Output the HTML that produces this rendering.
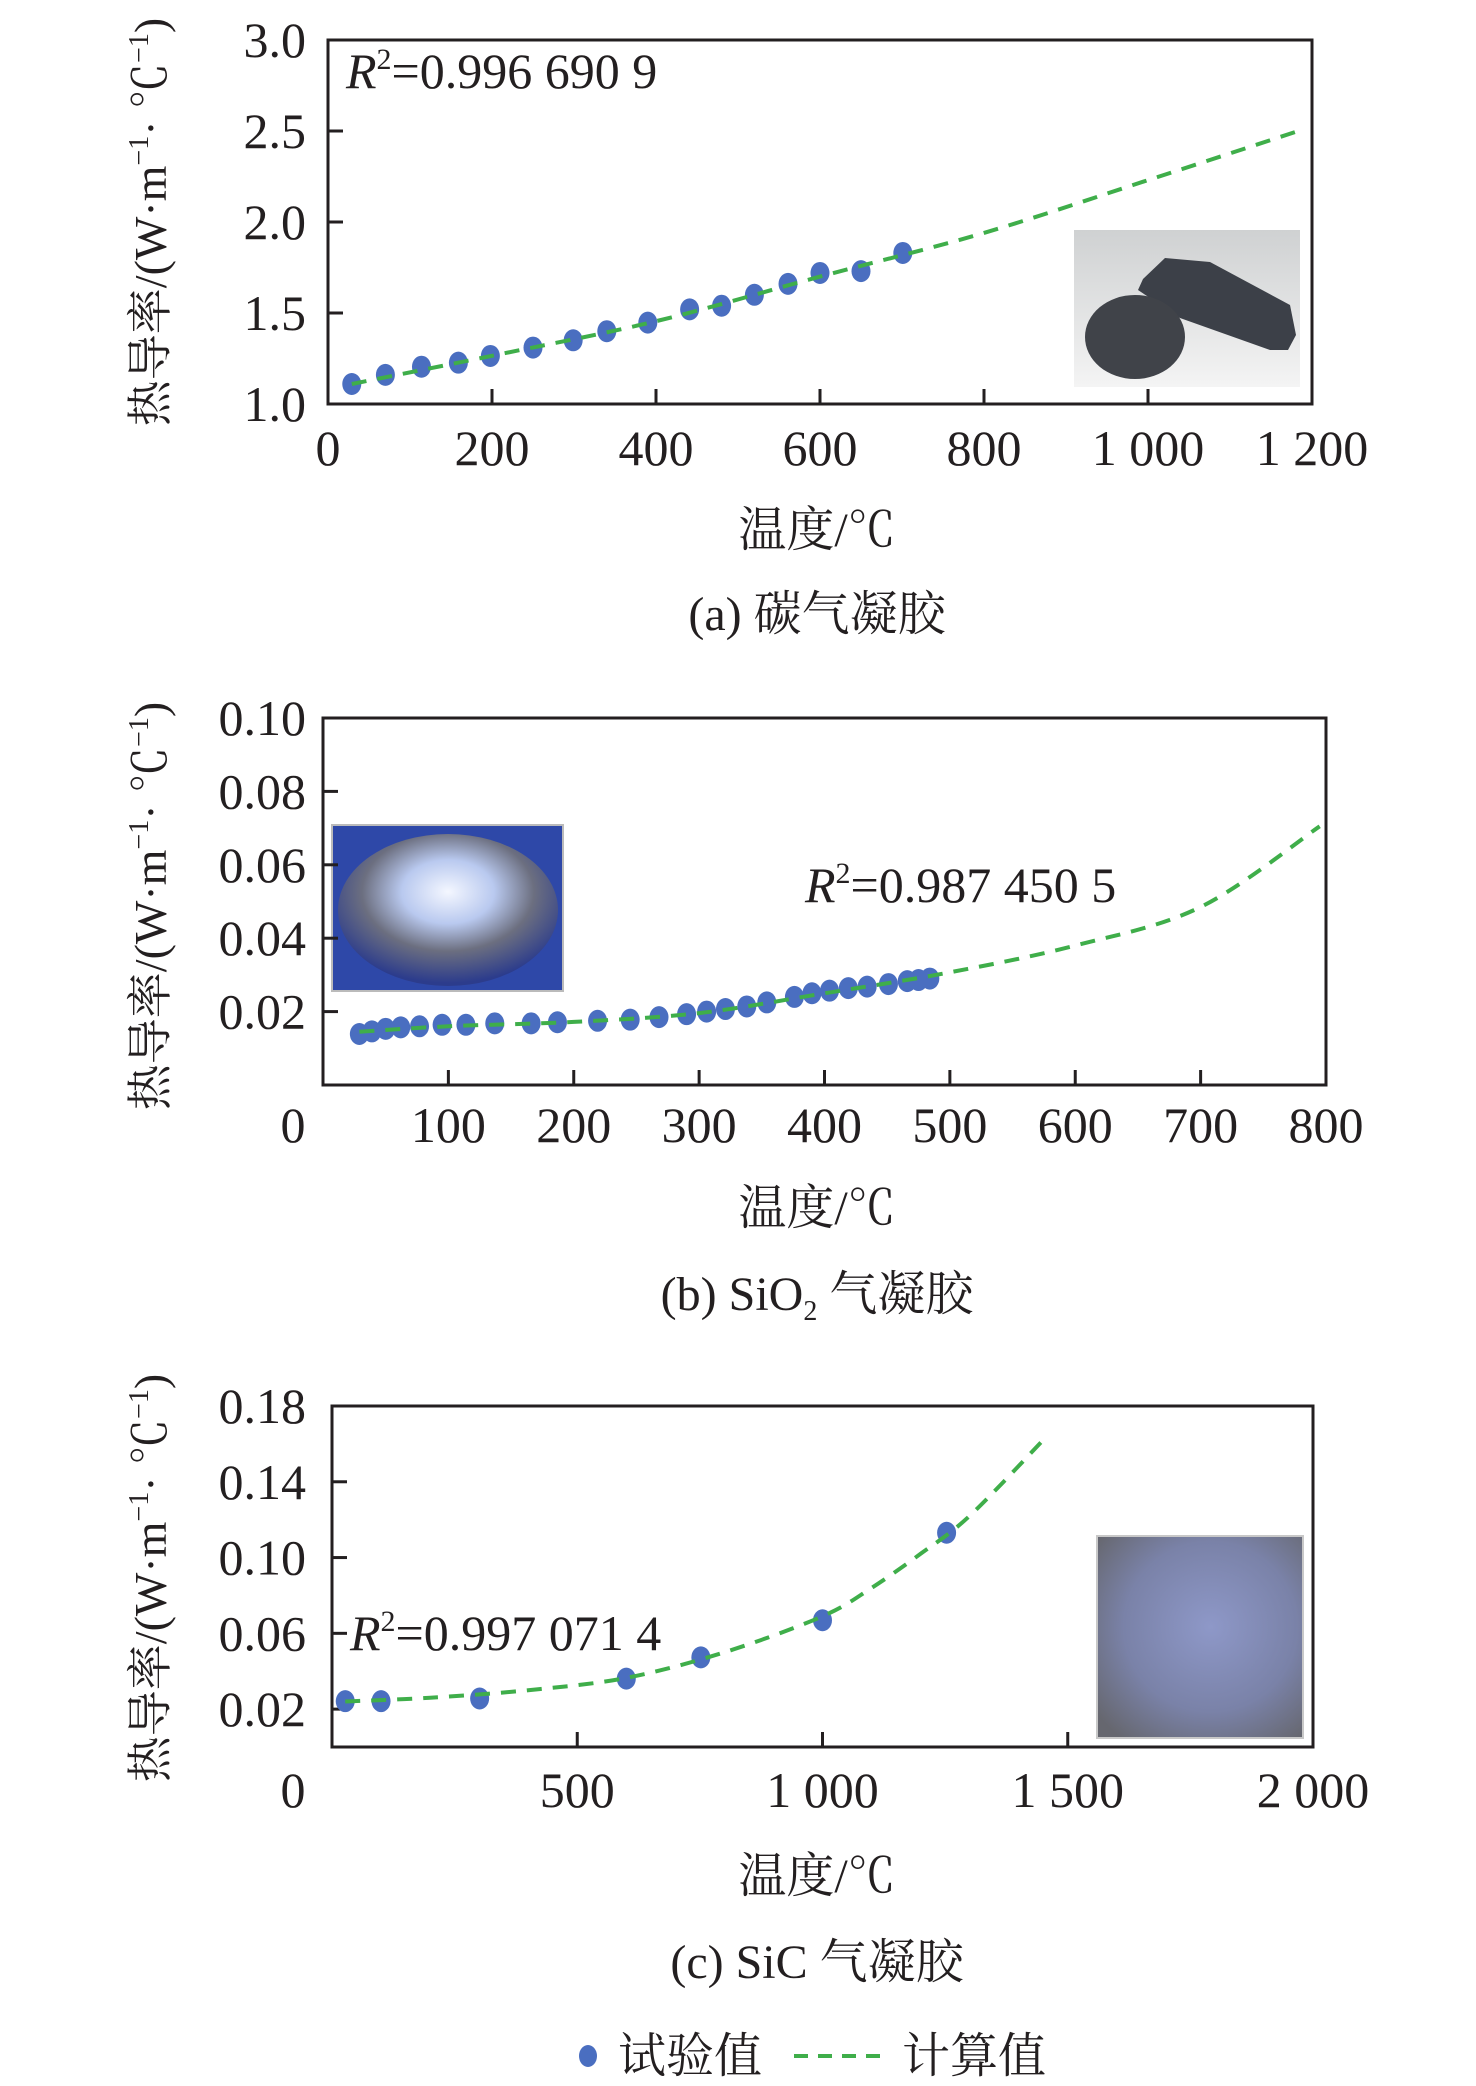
<!DOCTYPE html>
<html><head><meta charset="utf-8"><style>
html,body{margin:0;padding:0;background:#fff;}
svg{display:block;}
text{font-family:"Liberation Serif","Noto Serif CJK SC","Noto Sans CJK SC",serif;fill:#231f20;}
</style></head><body>
<svg id="fig" width="1476" height="2086" viewBox="0 0 1476 2086" xmlns="http://www.w3.org/2000/svg">
<defs>
<linearGradient id="ga" x1="0" y1="0" x2="0" y2="1"><stop offset="0" stop-color="#cfd1d2"/><stop offset="1" stop-color="#f4f4f4"/></linearGradient>
<radialGradient id="gb" cx="0.5" cy="0.38" r="0.6"><stop offset="0" stop-color="#f4f7ff"/><stop offset="0.35" stop-color="#b9c9ef"/><stop offset="0.65" stop-color="#6c6f80"/><stop offset="1" stop-color="#2c3c8c"/></radialGradient>
<radialGradient id="gc" cx="0.55" cy="0.45" r="0.7"><stop offset="0" stop-color="#8e98c8"/><stop offset="0.6" stop-color="#7a82a8"/><stop offset="1" stop-color="#66676f"/></radialGradient>
</defs>
<g id="chart-a"></g>
<g id="chart-b"></g>
<g id="chart-c"></g>
<g>
<ellipse cx="588" cy="2056" rx="9" ry="11" fill="#4a6ec0"/>
<text x="618" y="2072" font-size="48">试验值</text>
<line x1="794" y1="2056" x2="886" y2="2056" stroke="#3fae4a" stroke-width="4" stroke-dasharray="14,10"/>
<text x="902" y="2072" font-size="48">计算值</text>
</g>
</svg>
<script>
// Chart (a) carbon aerogel
const aTemps = [29,70,114,159,198,250,299,340,390,441,480,520,561,600,650,701];
const aValues = [1.11,1.16,1.205,1.227,1.264,1.31,1.35,1.40,1.447,1.52,1.54,1.60,1.66,1.72,1.73,1.83];
const aFitTemps = [29,200,400,600,800,1000,1190];
const aFitValues = [1.11,1.265,1.455,1.70,1.94,2.23,2.51];
const aYTicks = [1.0,1.5,2.0,2.5,3.0];
const aYTickLabels = ["1.0","1.5","2.0","2.5","3.0"];
const aXTicks = [0,200,400,600,800,1000,1200];
const aXTickLabels = ["0","200","400","600","800","1 000","1 200"];

// Chart (b) SiO2 aerogel
const bTemps = [29,39,50,62,77,95,114,137,166,187,219,245,268,290,306,321,338,354,376,390,404,419,434,451,466,475,484];
const bValues = [0.0139,0.0146,0.0153,0.0157,0.016,0.0164,0.0164,0.0168,0.0168,0.0171,0.0175,0.0178,0.0185,0.0193,0.020,0.0207,0.0214,0.0225,0.024,0.025,0.0257,0.0264,0.0268,0.0275,0.0283,0.0286,0.029];
const bFitTemps = [29,100,200,300,400,500,600,700,795];
const bFitValues = [0.0145,0.0160,0.0172,0.0196,0.0250,0.0307,0.0380,0.0485,0.0705];
const bYTicks = [0.02,0.04,0.06,0.08,0.10];
const bYTickLabels = ["0.02","0.04","0.06","0.08","0.10"];
const bXTicks = [100,200,300,400,500,600,700,800];
const bXTickLabels = ["100","200","300","400","500","600","700","800"];

// Chart (c) SiC aerogel
const cTemps = [27,100,301,600,752,1000,1253];
const cValues = [0.0242,0.0242,0.0256,0.0361,0.0473,0.0669,0.1131];
const cFitTemps = [27,200,400,600,800,1000,1100,1200,1300,1450];
const cFitValues = [0.024,0.026,0.030,0.0365,0.050,0.069,0.084,0.102,0.122,0.162];
const cYTicks = [0.02,0.06,0.10,0.14,0.18];
const cYTickLabels = ["0.02","0.06","0.10","0.14","0.18"];
const cXTicks = [500,1000,1500,2000];
const cXTickLabels = ["500","1 000","1 500","2 000"];

const NS = "http://www.w3.org/2000/svg";
function mk(parent, tag, attrs, txt){
  const e = document.createElementNS(NS, tag);
  for (const k in attrs) e.setAttribute(k, attrs[k]);
  if (txt !== undefined) e.textContent = txt;
  parent.appendChild(e);
  return e;
}
function smoothPath(pts){
  let d = 'M'+pts[0][0].toFixed(1)+','+pts[0][1].toFixed(1);
  for (let i=0;i<pts.length-1;i++){
    const p0=pts[Math.max(0,i-1)],p1=pts[i],p2=pts[i+1],p3=pts[Math.min(pts.length-1,i+2)];
    const c1=[p1[0]+(p2[0]-p0[0])/6,p1[1]+(p2[1]-p0[1])/6];
    const c2=[p2[0]-(p3[0]-p1[0])/6,p2[1]-(p3[1]-p1[1])/6];
    d+=' C'+c1[0].toFixed(1)+','+c1[1].toFixed(1)+' '+c2[0].toFixed(1)+','+c2[1].toFixed(1)+' '+p2[0].toFixed(1)+','+p2[1].toFixed(1);
  }
  return d;
}

function drawChart(g, cfg){
  const L=cfg.left,R=cfg.right,T=cfg.top,B=cfg.bottom;
  const xs = v => L + (v - cfg.xmin)/(cfg.xmax - cfg.xmin)*(R-L);
  const ys = v => B - (v - cfg.ymin)/(cfg.ymax - cfg.ymin)*(B-T);
  cfg.inset(g);
  const box = mk(g,'rect',{x:L,y:T,width:R-L,height:B-T,fill:'none',stroke:'#231f20','stroke-width':3});
  
  
  cfg.yTicks.forEach((v,i)=>{
    const y = ys(v);
    if (v !== cfg.ymax && v !== cfg.ymin) {
      const t = mk(g,'line',{x1:L,y1:y,x2:L+15,y2:y,stroke:'#231f20','stroke-width':3});
      
      
    }
    const lab = mk(g,'text',{x:306,y:y+17,'text-anchor':'end','font-size':50},cfg.yTickLabels[i]);
    
    
  });
  cfg.xTicks.forEach((v,i)=>{
    const x = xs(v);
    if (v !== cfg.xmin && v !== cfg.xmax) {
      const t = mk(g,'line',{x1:x,y1:B,x2:x,y2:B-15,stroke:'#231f20','stroke-width':3});
      
      
    }
    const lab = mk(g,'text',{x:x,y:cfg.xLabelY,'text-anchor':'middle','font-size':50},cfg.xTickLabels[i]);
    
    
  });
  if (cfg.zeroLabel) {
    const z = mk(g,'text',{x:293,y:cfg.xLabelY,'text-anchor':'middle','font-size':50},'0');
    
    
  }
  const pts = cfg.fitT.map((t,i)=>[xs(t),ys(cfg.fitV[i])]);
  const d = smoothPath(pts);
  cfg.temps.forEach((t,i)=>{
    const p = mk(g,'ellipse',{cx:xs(t),cy:ys(cfg.vals[i]),rx:9.5,ry:11,fill:'#4a6ec0'});
    
    
  });
  const fl = mk(g,'path',{d:d,fill:'none',stroke:'#3fae4a','stroke-width':4,'stroke-dasharray':'15,11'});
  
  
  const r = mk(g,'text',{x:cfg.r2x,y:cfg.r2y,'font-size':50});
  
  
  mk(r,'tspan',{'font-style':'italic'},'R');
  mk(r,'tspan',{'font-size':30,dy:-19},'2');
  mk(r,'tspan',{dy:19},'='+cfg.r2);
  const yt = mk(g,'text',{x:0,y:0,'font-size':46,'text-anchor':'middle',transform:'translate(166,'+cfg.yTitleY+') rotate(-90)'});
  
  
  mk(yt,'tspan',{},'热导率/(W·m');
  mk(yt,'tspan',{'font-size':28,dy:-18},'−1');
  mk(yt,'tspan',{dy:18},'· ℃');
  mk(yt,'tspan',{'font-size':28,dy:-18},'−1');
  mk(yt,'tspan',{dy:18},')');
  const xt = mk(g,'text',{x:817,y:cfg.xTitleY,'text-anchor':'middle','font-size':48},'温度/℃');
  
  
  const cap = mk(g,'text',{x:817,y:cfg.capY,'text-anchor':'middle','font-size':48});
  
  
  cfg.caption(cap);
}

drawChart(document.getElementById('chart-a'),{
  left:328,right:1312,top:40,bottom:404,xmin:0,xmax:1200,ymin:1.0,ymax:3.0,
  temps:aTemps,vals:aValues,fitT:aFitTemps,fitV:aFitValues,
  yTicks:aYTicks,yTickLabels:aYTickLabels,xTicks:aXTicks,xTickLabels:aXTickLabels,
  xLabelY:465,zeroLabel:false,r2x:346,r2y:88,r2:'0.996 690 9',yTitleY:222,xTitleY:546,capY:630,
  inset:g=>{
    const gi = mk(g,'g',{});
    
    
    mk(gi,'rect',{x:1074,y:230,width:226,height:157,fill:'url(#ga)'});
    mk(gi,'path',{d:'M1143,279 L1165,258 L1210,262 L1290,305 L1296,335 L1288,350 L1270,350 L1180,318 L1138,290 Z',fill:'#3c4048'});
    mk(gi,'ellipse',{cx:1135,cy:337,rx:50,ry:42,fill:'#404349'});
  },
  caption:c=>{c.textContent='(a) 碳气凝胶';}
});
drawChart(document.getElementById('chart-b'),{
  left:323,right:1326,top:718,bottom:1085,xmin:0,xmax:800,ymin:0,ymax:0.10,
  temps:bTemps,vals:bValues,fitT:bFitTemps,fitV:bFitValues,
  yTicks:bYTicks,yTickLabels:bYTickLabels,xTicks:bXTicks,xTickLabels:bXTickLabels,
  xLabelY:1142,zeroLabel:true,r2x:805,r2y:902,r2:'0.987 450 5',yTitleY:906,xTitleY:1224,capY:1310,
  inset:g=>{
    const gi = mk(g,'g',{});
    
    
    mk(gi,'rect',{x:332,y:825,width:231,height:166,fill:'#2e48a8',stroke:'#bbb','stroke-width':2});
    mk(gi,'ellipse',{cx:448,cy:910,rx:110,ry:76,fill:'url(#gb)'});
  },
  caption:c=>{
    mk(c,'tspan',{},'(b) SiO');
    mk(c,'tspan',{'font-size':28,dy:10},'2');
    mk(c,'tspan',{dy:-10},' 气凝胶');
  }
});
drawChart(document.getElementById('chart-c'),{
  left:332,right:1313,top:1406,bottom:1747,xmin:0,xmax:2000,ymin:0,ymax:0.18,
  temps:cTemps,vals:cValues,fitT:cFitTemps,fitV:cFitValues,
  yTicks:cYTicks,yTickLabels:cYTickLabels,xTicks:cXTicks,xTickLabels:cXTickLabels,
  xLabelY:1807,zeroLabel:true,r2x:350,r2y:1650,r2:'0.997 071 4',yTitleY:1578,xTitleY:1892,capY:1978,
  inset:g=>{
    const gi = mk(g,'g',{});
    
    
    mk(gi,'rect',{x:1097,y:1536,width:206,height:202,fill:'url(#gc)',stroke:'#c8c8c8','stroke-width':2});
  },
  caption:c=>{c.textContent='(c) SiC 气凝胶';}
});
</script>
</body></html>
